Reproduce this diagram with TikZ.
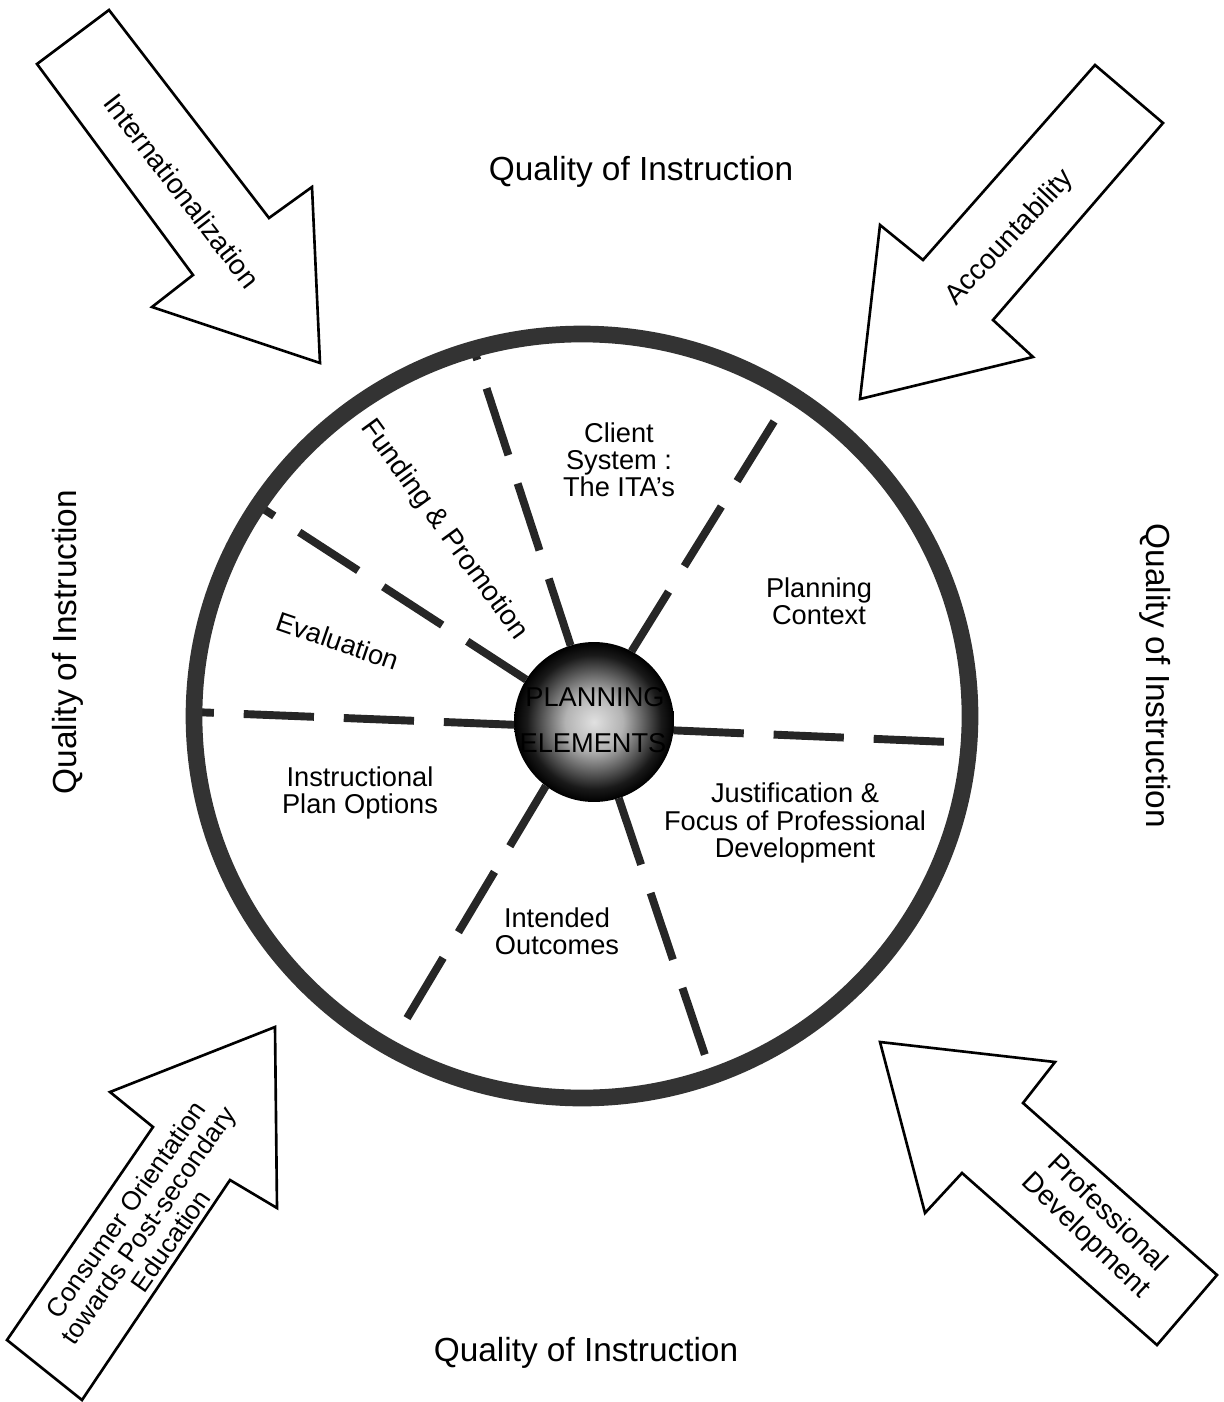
\documentclass[tikz,border=0pt]{standalone}
\usepackage{fontspec}
\setmainfont{Liberation Sans}
\pgfdeclareradialshading{coreshade}{\pgfpoint{0bp}{0bp}}{color(0bp)=(black!12); color(9bp)=(black!30); color(16bp)=(black!65); color(21bp)=(black!90); color(25bp)=(black); color(50bp)=(black)}
\begin{document}
\begin{tikzpicture}[x=0.02cm,y=-0.02cm,
  bigtxt/.style={font=\fontsize{19}{22}\selectfont, inner sep=0pt},
  txt/.style={font=\fontsize{15.5}{15.5}\selectfont, align=center, inner sep=0pt},
  arrtxt/.style={font=\fontsize{16}{17.5}\selectfont, align=center, inner sep=0pt},
  bigarrow/.style={draw=black, fill=white, line width=1.5pt, line join=miter},
  spoke/.style={draw=black!85, line width=4.5pt, dash pattern=on 40pt off 17pt},
  ringline/.style={draw=black!80, line width=9.5pt}]
\useasboundingbox (0,0) rectangle (1223,1402);

% outer arrows
\draw[bigarrow] (37,64) -- (109,10) -- (269,218) -- (312,187) -- (320,363) -- (152,307) -- (193,275) -- cycle;
\draw[bigarrow] (860,399) -- (880,225) -- (923,260) -- (1095,65) -- (1163,123) -- (993,320) -- (1033,357) -- cycle;
\draw[bigarrow] (275,1027) -- (277,1208) -- (230,1180) -- (82,1400) -- (7,1340) -- (153,1127) -- (110,1092) -- cycle;
\draw[bigarrow] (880,1042) -- (1055,1062) -- (1023,1103) -- (1217,1275) -- (1157,1345) -- (962,1173) -- (925,1213) -- cycle;

\node[arrtxt, rotate=-52.4] (intl) at (182,191) {Internationalization};
\node[arrtxt, rotate=47] (acc) at (1010,238) {Accountability};
\node[arrtxt, rotate=55, font=\fontsize{15}{15.5}\selectfont] (cons) at (148,1225) {Consumer Orientation\\towards Post-secondary\\Education};
\node[arrtxt, rotate=-44, font=\fontsize{16}{17.5}\selectfont] (prof) at (1096,1225) {Professional\\Development};

% quality labels
\node[bigtxt] (qtop) at (641,172) {Quality of Instruction};
\node[bigtxt] (qbot) at (586,1353) {Quality of Instruction};
\node[bigtxt, rotate=90] (qleft) at (68,642) {Quality of Instruction};
\node[bigtxt, rotate=-90] (qright) at (1155,676) {Quality of Instruction};

% core
\node[circle, minimum size=3.2cm, inner sep=0pt, outer sep=0pt, shading=coreshade] (core) at (594,722) {};

% ring points
\coordinate (r1) at (474,350);
\coordinate (r2) at (788,399);
\coordinate (r3) at (262,508);
\coordinate (r4) at (193,712);
\coordinate (r5) at (972,743);
\coordinate (r6) at (712,1076);
\coordinate (r7) at (388,1050);

\draw[spoke] (core.107) -- (r1);
\draw[spoke] (core.62) -- (r2);
\draw[spoke] (core.148) -- (r3);
\draw[spoke] (core.182) -- (r4);
\draw[spoke] (core.-6) -- (r5);
\draw[spoke] (core.-72) -- (r6);
\draw[spoke] (core.233) -- (r7);

% ring
\draw[ringline] (582,716) ellipse [x radius=388, y radius=382];

% core text
\node[txt, font=\fontsize{15.5}{15.5}\selectfont] (plan) at (595,697) {PLANNING};
\node[txt, font=\fontsize{15.5}{15.5}\selectfont] (elem) at (593,743) {ELEMENTS};

% sector labels
\node[txt] (client) at (619,460) {Client\\System :\\The ITA's};
\node[txt] (context) at (819,601) {Planning\\Context};
\node[txt] (just) at (795,823) {Justification \&\\Focus of Professional\\Development};
\node[txt] (outc) at (557,931) {Intended\\Outcomes};
\node[txt] (instr) at (360,793) {Instructional\\Plan Options};
\node[txt, rotate=-19] (eval) at (338,641) {Evaluation};
\node[txt, rotate=-54, font=\fontsize{16}{16}\selectfont] (fund) at (444,530) {Funding \& Promotion};
\end{tikzpicture}
\end{document}
